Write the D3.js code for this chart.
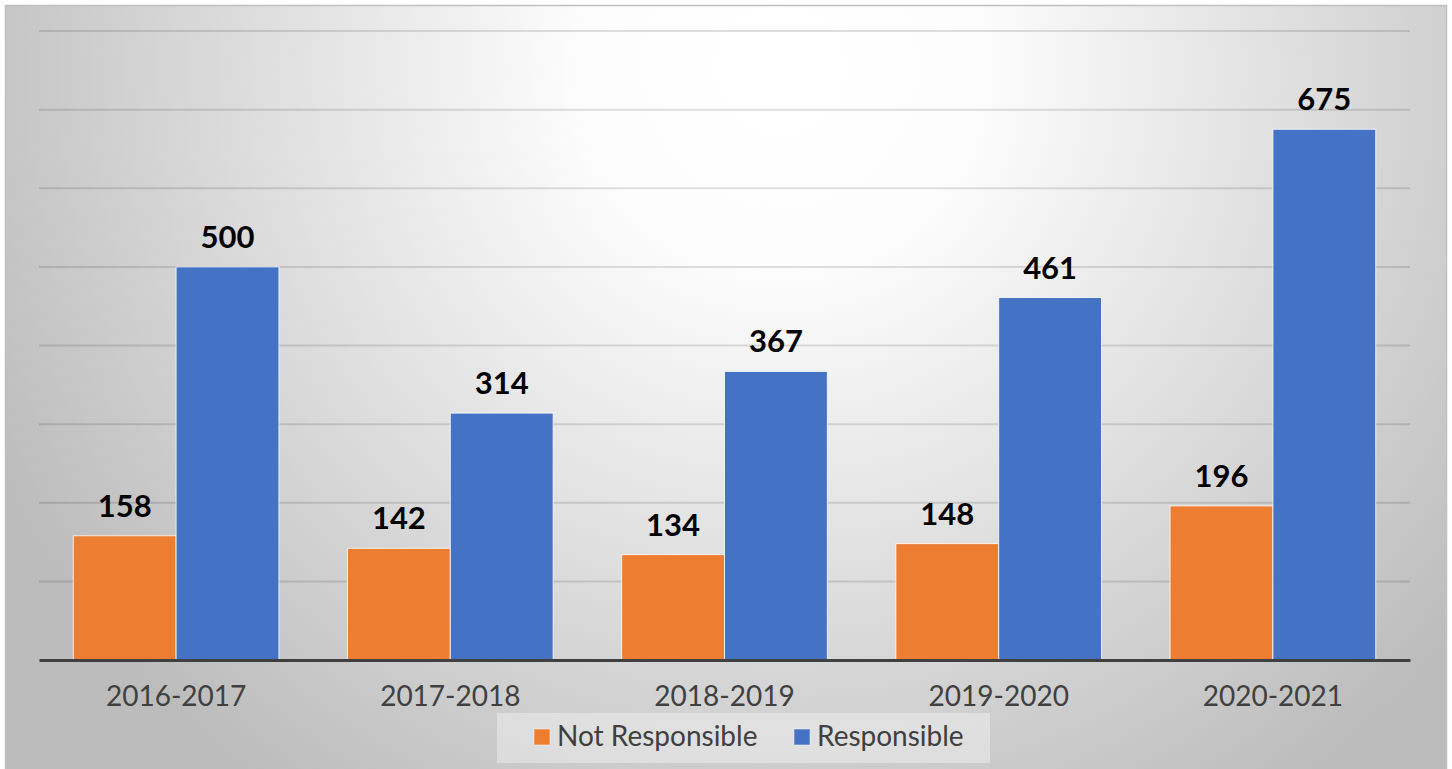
<!DOCTYPE html>
<html>
<head>
<meta charset="utf-8">
<script src="https://cdn.jsdelivr.net/npm/d3@7"></script>
<style>
  body { margin: 0; background: #ffffff; }
  svg { display: block; }
</style>
</head>
<body>
<script>
var years = ["2016-2017", "2017-2018", "2018-2019", "2019-2020", "2020-2021"];
var seriesNames = ["Not Responsible", "Responsible"];
var notResponsible = [158, 142, 134, 148, 196];
var responsible = [500, 314, 367, 461, 675];
var gridTicks = [0, 100, 200, 300, 400, 500, 600, 700, 800];
var colors = ["#ED7D31", "#4472C4"];

var width = 1452, height = 769;
var plot = {left: 39, right: 1410, top: 31, bottom: 660};

var svg = d3.select("body")
    .append("svg")
    .attr("width", width)
    .attr("height", height);

// radial background like the office chart style
var defs = svg.append("defs");
var grad = defs.append("radialGradient")
    .attr("id", "bg")
    .attr("gradientUnits", "userSpaceOnUse")
    .attr("cx", 780).attr("cy", 70).attr("r", 880);
grad.append("stop").attr("offset", "0").attr("stop-color", "#ffffff");
grad.append("stop").attr("offset", "0.22").attr("stop-color", "#fdfdfd");
grad.append("stop").attr("offset", "1").attr("stop-color", "#bcbcbc");

svg.append("rect")
    .attr("x", 5.5).attr("y", 5.5)
    .attr("width", width - 11).attr("height", height)
    .attr("fill", "url(#bg)")
    .attr("stroke", "#c0c0c0")
    .attr("stroke-width", 1.5);

var x0 = d3.scaleBand()
    .domain(years)
    .range([plot.left, plot.right])
    .paddingInner(0.25)
    .paddingOuter(0.125);

var x1 = d3.scaleBand()
    .domain(seriesNames)
    .range([0, x0.bandwidth()]);

var y = d3.scaleLinear()
    .domain([0, 800])
    .range([plot.bottom, plot.top]);

var rows = years.map(function(yr, i) {
    return {year: yr, values: [
        {name: seriesNames[0], value: notResponsible[i], color: colors[0]},
        {name: seriesNames[1], value: responsible[i], color: colors[1]}
    ]};
});

// gridlines
svg.append("g")
    .selectAll("line")
    .data(gridTicks.slice(1))
    .enter()
    .append("line")
    .attr("x1", plot.left)
    .attr("x2", plot.right)
    .attr("y1", function(d) { return y(d); })
    .attr("y2", function(d) { return y(d); })
    .attr("stroke", "rgba(0,0,0,0.12)")
    .attr("stroke-width", 2);

var group = svg.selectAll(".grp")
    .data(rows)
    .enter()
    .append("g")
    .attr("class", "grp")
    .attr("transform", function(d) { return "translate(" + x0(d.year) + ",0)"; });

group.selectAll("rect")
    .data(function(d) { return d.values; })
    .enter()
    .append("rect")
    .attr("x", function(d) { return x1(d.name); })
    .attr("y", function(d) { return y(d.value); })
    .attr("width", x1.bandwidth())
    .attr("height", function(d) { return y(0) - y(d.value); })
    .attr("fill", function(d) { return d.color; })
    .attr("stroke", "#ffffff")
    .attr("stroke-opacity", 0.8)
    .attr("stroke-width", 1);

group.selectAll("text")
    .data(function(d) { return d.values; })
    .enter()
    .append("text")
    .attr("x", function(d) { return x1(d.name) + x1.bandwidth() / 2; })
    .attr("y", function(d) { return y(d.value) - 19; })
    .attr("text-anchor", "middle")
    .attr("font-family", "Lato, sans-serif")
    .attr("font-weight", "bold")
    .attr("font-size", 31)
    .attr("fill", "#000000")
    .text(function(d) { return d.value; });

// x axis
var xAxis = svg.append("g")
    .attr("transform", "translate(0," + plot.bottom + ")")
    .call(d3.axisBottom(x0).tickSize(0).tickPadding(46));
xAxis.select(".domain")
    .attr("stroke", "#404040")
    .attr("stroke-width", 3);
xAxis.selectAll("text")
    .attr("font-family", "Lato, sans-serif")
    .attr("font-size", 28)
    .attr("fill", "#404040")
    .attr("dy", "0");

// legend
var legend = svg.append("g");
legend.append("rect")
    .attr("x", 497).attr("y", 713)
    .attr("width", 493).attr("height", 50)
    .attr("fill", "#ffffff")
    .attr("fill-opacity", 0.35);

var legendX = [534, 794];
var item = legend.selectAll(".item")
    .data(seriesNames)
    .enter()
    .append("g")
    .attr("class", "item")
    .attr("transform", function(d, i) { return "translate(" + legendX[i] + ",729)"; });

item.append("rect")
    .attr("width", 16).attr("height", 16)
    .attr("fill", function(d, i) { return colors[i]; })
    .attr("stroke", "#ffffff")
    .attr("stroke-opacity", 0.5)
    .attr("stroke-width", 1);

item.append("text")
    .attr("x", 23)
    .attr("y", 17)
    .attr("font-family", "Lato, sans-serif")
    .attr("font-size", 28)
    .attr("fill", "#404040")
    .text(function(d) { return d; });
</script>
</body>
</html>
